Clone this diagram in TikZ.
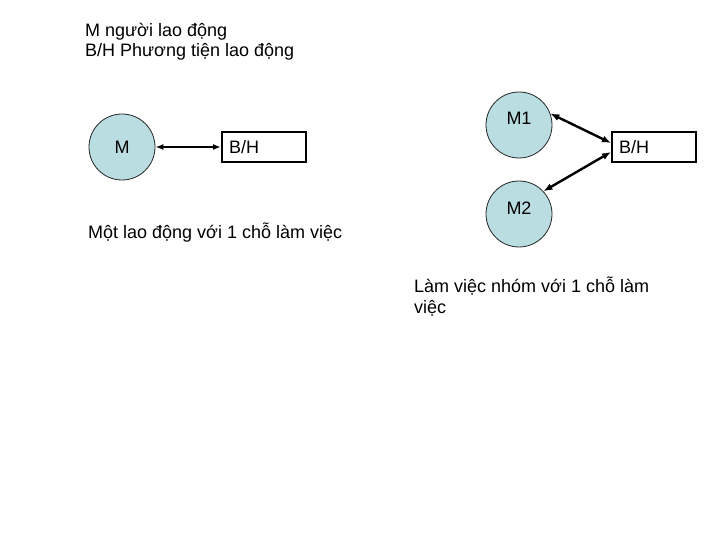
\documentclass[tikz,border=0pt]{standalone}
\usepackage{fontspec}
\setmainfont{Liberation Sans}
\usetikzlibrary{arrows.meta}
\definecolor{circfill}{RGB}{185,221,225}
\begin{document}
\begin{tikzpicture}[x=1pt,y=-1pt,
  txt/.style={inner sep=0pt, anchor=base west, font=\fontsize{18}{20}\selectfont},
  person/.style={circle, draw=black!85, line width=0.8pt, fill=circfill, minimum size=66pt, inner sep=0pt, font=\fontsize{18}{20}\selectfont},
  toolbox/.style={draw, line width=2pt, minimum height=30pt, text width=70pt, align=left, inner ysep=0pt, font=\fontsize{18}{20}\selectfont},
  link/.style={{Latex[length=8pt,width=6pt]}-{Latex[length=8pt,width=6pt]}, line width=1.6pt},
  biglink/.style={{Latex[length=9pt,width=7pt]}-{Latex[length=9pt,width=7pt]}, line width=2.4pt}]
\useasboundingbox (0,0) rectangle (720,540);
\node[txt] (t1) at (85,37) {M người lao động};
\node[txt] (t2) at (85,57) {B/H Phương tiện lao động};
\node[person] (m) at (122,147) {M};
\node[toolbox, inner xsep=7pt] (bh1) at (264,147) {B/H};
\node[txt] (t3) at (88,238) {Một lao động với 1 chỗ làm việc};
\node[person, label={[name=m1t, yshift=7pt, font=\fontsize{18}{20}\selectfont]center:M1}] (m1) at (519,125) {};
\node[person, label={[name=m2t, yshift=6pt, font=\fontsize{18}{20}\selectfont]center:M2}] (m2) at (519,214) {};
\node[toolbox, inner xsep=7pt] (bh2) at (654,147) {B/H};
\node[txt] (t4) at (414,292) {Làm việc nhóm với 1 chỗ làm};
\node[txt] (t5) at (414,313) {việc};
\draw[link] (m) -- (bh1);
\draw[biglink] (m1.20) -- ([yshift=4pt]bh2.west);
\draw[biglink] (m2.43) -- ([yshift=-5pt]bh2.west);
\end{tikzpicture}
\end{document}
